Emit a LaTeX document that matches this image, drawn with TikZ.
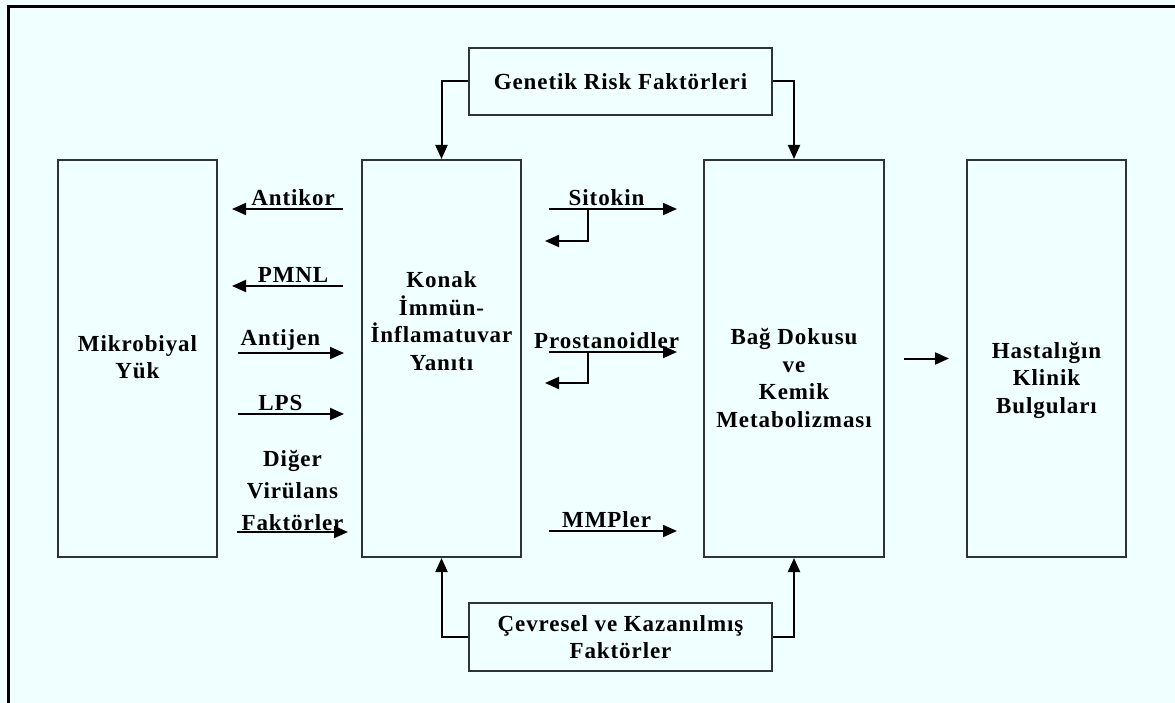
\documentclass[tikz,border=0pt]{standalone}
\usepackage{fontspec}
\setmainfont{Liberation Serif}[LetterSpace=4]
\usetikzlibrary{arrows.meta}
\definecolor{PaleCyan}{HTML}{F0FFFF}
\definecolor{BoxLine}{HTML}{2E3333}

\begin{document}
\begin{tikzpicture}[x=1pt, y=-1pt,
    box/.style={draw=BoxLine, line width=2pt, inner sep=0pt},
    lbl/.style={align=center, inner sep=1pt},
    arr/.style={line width=2pt, -{Triangle[length=14pt, width=12pt]}},
    every node/.append style={font=\fontsize{23}{27.5}\selectfont\bfseries}]
    \useasboundingbox (0,0) rectangle (1175,703);
    \fill[PaleCyan] (0,0) rectangle (1175,703);
    % Outer frame
    \draw[line width=3pt] (8.5,703) -- (8.5,6.5) -- (1175,6.5);

    % Main boxes
    \node[box, minimum width=159pt, minimum height=397pt] (mik) at (137.5,358.5) {};
    \node[box, minimum width=159pt, minimum height=397pt] (kon) at (441.5,358.5) {};
    \node[box, minimum width=180pt, minimum height=397pt] (bag) at (794,358.5) {};
    \node[box, minimum width=159pt, minimum height=397pt] (has) at (1046.5,358.5) {};
    % Box texts
    \node[lbl] (mik-t) at (137.5,357) {Mikrobiyal\\Yük};
    \node[lbl] (kon-t) at (441.5,321) {Konak\\İmmün-\\İnflamatuvar\\Yanıtı};
    \node[lbl] (bag-t) at (794,378) {Bağ Dokusu\\ve\\Kemik\\Metabolizması};
    \node[lbl] (has-t) at (1046.5,380) {Hastalığın\\Klinik\\Bulguları};

    % Risk factor boxes
    \node[box, align=center, minimum width=303pt, minimum height=67pt] (gen) at (620.5,81.5) {Genetik Risk Faktörleri};
    \node[box, align=center, minimum width=303pt, minimum height=68pt] (cev) at (620.5,637) {Çevresel ve Kazanılmış\\Faktörler};

    % Risk factor arrows
    \draw[arr] (gen.west) -| (kon.north);
    \draw[arr] (gen.east) -| (bag.north);
    \draw[arr] (cev.west) -| (kon.south);
    \draw[arr] (cev.east) -| (bag.south);

    % Host to microbe
    \foreach \y/\txt/\nm in {209/Antikor/ak, 286/PMNL/pm} {
        \coordinate (\nm-s) at (343,\y);
        \coordinate (\nm-e) at (232,\y);
        \draw[arr] (\nm-s) -- node[lbl, above=1pt, pos=0.45] (\nm) {\txt} (\nm-e);
    }

    % Microbe to host
    \foreach \y/\txt/\nm in {353/Antijen/aj, 414/LPS/lps} {
        \coordinate (\nm-s) at (238,\y);
        \coordinate (\nm-e) at (344,\y);
        \draw[arr] (\nm-s) -- node[lbl, above=1pt, pos=0.4] (\nm) {\txt} (\nm-e);
    }
    \coordinate (dv-s) at (237,532);
    \coordinate (dv-e) at (348,532);
    \draw[arr] (dv-s) -- node[lbl, above=-1pt, pos=0.5,
        font=\fontsize{23}{32}\selectfont\bfseries] (dv) {Diğer\\Virülans\\Faktörler} (dv-e);

    % Host to tissue
    \foreach \y/\txt/\nm in {209/Sitokin/sit, 352/Prostanoidler/pro, 531/MMPler/mmp} {
        \coordinate (\nm-s) at (549,\y);
        \coordinate (\nm-e) at (677,\y);
        \draw[arr] (\nm-s) -- node[lbl, above=1pt, pos=0.45] (\nm) {\txt} (\nm-e);
    }
    % Feedback hooks
    \coordinate (sit-b) at (545,241);
    \coordinate (pro-b) at (545,383);
    \draw[arr] (sit-s -| 588,0) |- (sit-b);
    \draw[arr] (pro-s -| 588,0) |- (pro-b);

    % Tissue to clinic
    \draw[arr] ([xshift=19pt]bag.east) -- ([xshift=-17pt]has.west);
\end{tikzpicture}
\end{document}
